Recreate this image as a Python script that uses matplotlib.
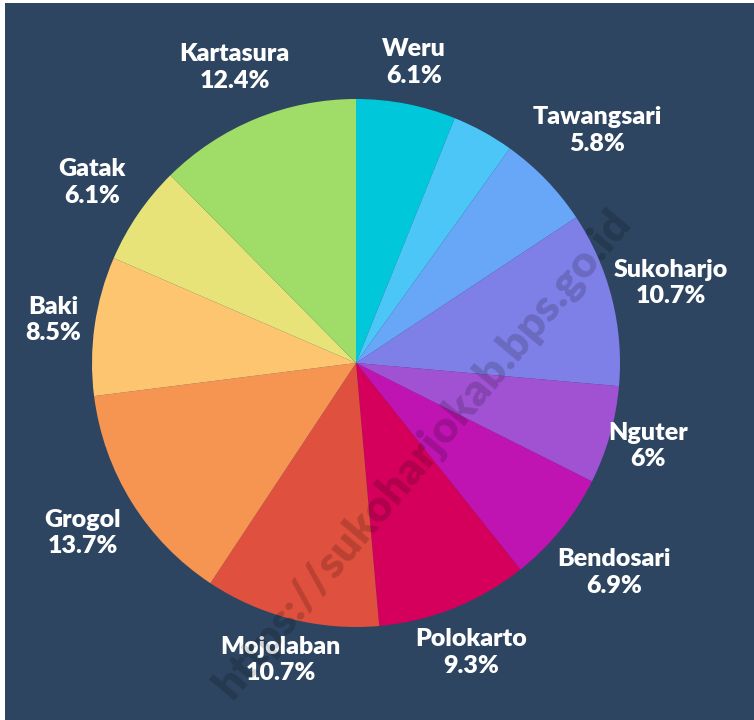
import matplotlib
matplotlib.use('Agg')
import matplotlib.pyplot as plt
import numpy as np
from matplotlib.patches import Rectangle

# Share of area per kecamatan (%), clockwise from 12 o'clock
districts = ['Weru', 'Bulu', 'Tawangsari', 'Sukoharjo', 'Nguter', 'Bendosari',
             'Polokarto', 'Mojolaban', 'Grogol', 'Baki', 'Gatak', 'Kartasura']
shares = [6.1, 3.8, 5.8, 10.7, 6.0, 6.9, 9.3, 10.7, 13.7, 8.5, 6.1, 12.4]
pct_text = ['6.1%', '', '5.8%', '10.7%', '6%', '6.9%', '9.3%', '10.7%',
            '13.7%', '8.5%', '6.1%', '12.4%']
show_label = [True, False, True, True, True, True, True, True, True, True, True, True]
colors = ['#00c8da', '#4cc6f6', '#68a6f8', '#7f7fe8', '#a052d2', '#c014b2',
          '#d4005c', '#e0503e', '#f69552', '#fdc570', '#e8e378', '#a0dc68']

# label radius (in pie radii) per slice
label_r = [1.16, 1.2, 1.27, 1.23, 1.15, 1.26, 1.18, 1.16, 1.22, 1.16, 1.21, 1.21]

bg = '#2d4561'

fig = plt.figure(figsize=(7.54, 7.20), dpi=100)
fig.patch.set_facecolor('white')
fig.add_artist(Rectangle((5 / 754, 0), 1, 717 / 720, transform=fig.transFigure,
                         facecolor=bg, edgecolor='none', zorder=0))

R = 264
cx, cy = 356, 720 - 363
ax = fig.add_axes([(cx - R) / 754, (cy - R) / 720, 2 * R / 754, 2 * R / 720])
ax.set_facecolor('none')

wedges, _ = ax.pie(shares, colors=colors, startangle=90, counterclock=False,
                   radius=1, wedgeprops=dict(linewidth=0))
for w, d, p, s, lr in zip(wedges, districts, pct_text, show_label, label_r):
    if not s:
        continue
    ang = np.deg2rad((w.theta1 + w.theta2) / 2)
    ax.text(lr * np.cos(ang), lr * np.sin(ang), f'{d}\n{p}', ha='center', va='center',
            color='white', fontsize=18, fontweight='heavy', family='Lato',
            linespacing=1.25)
ax.set_xlim(-1, 1)
ax.set_ylim(-1, 1)
ax.set_aspect('auto')
ax.axis('off')

# watermark
fig.text(0.56, 0.37, 'https://sukoharjokab.bps.go.id', rotation=50,
         ha='center', va='center', fontsize=32, fontweight='heavy',
         family='Lato', color='black', alpha=0.17)

plt.savefig('out.png', dpi=100, facecolor=fig.get_facecolor())
